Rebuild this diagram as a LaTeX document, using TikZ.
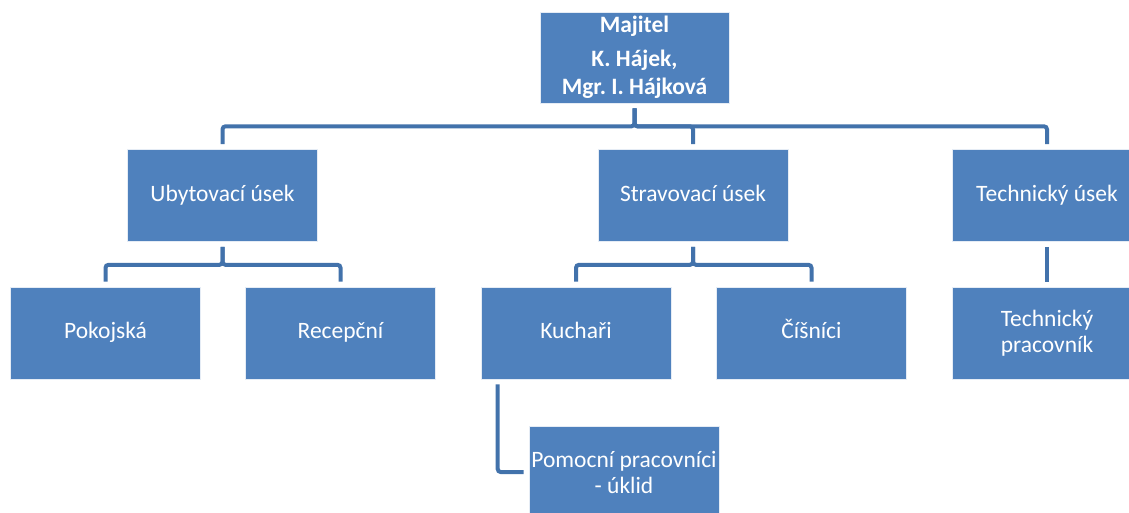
\documentclass[tikz,border=0pt]{standalone}
\usepackage{fontspec}
\setmainfont{Carlito}
\frenchspacing
\definecolor{boxblue}{HTML}{4F81BD}
\definecolor{lineblue}{HTML}{4272AB}
\begin{document}
\begin{tikzpicture}[x=1pt,y=-1pt,
  box/.style={fill=boxblue,draw=white!85!boxblue,line width=0.6pt,minimum width=190pt,minimum height=92pt,inner sep=0pt,
    text=white,font=\fontsize{23.5}{26}\selectfont,align=center},
  one/.style={text height=15pt,text depth=4pt},
  conn/.style={draw=lineblue,line width=4pt,rounded corners=3pt,shorten <=5pt,shorten >=5pt}]
\useasboundingbox (0,0) rectangle (1129,512);
\clip (0,0) rectangle (1129,512);
\node[box,minimum width=189pt,minimum height=91pt,font=\bfseries\fontsize{23.5}{28}\selectfont] (maj) at (634.5,57.5) {Majitel\\[6pt]K. Hájek,\\Mgr. I. Hájková};
\node[box,one] (ub) at (222.5,195.5) {Ubytovací úsek};
\node[box,one] (str) at (693,195.5) {Stravovací úsek};
\node[box,one] (tech) at (1047,195.5) {Technický úsek};
\node[box,one] (pok) at (105.5,333) {Pokojská};
\node[box,one] (rec) at (340.5,333) {Recepční};
\node[box,one] (kuch) at (576,333) {Kuchaři};
\node[box,one] (cis) at (811.5,333) {Číšníci};
\node[box] (tp) at (1047,333) {Technický\\pracovník};
\node[box] (pom) at (624,472) {Pomocní pracovníci\\- úklid};
\draw[conn] (maj.south) -- ++(0,23) -| (ub.north);
\draw[conn] (maj.south) -- ++(0,23) -| (str.north);
\draw[conn] (maj.south) -- ++(0,23) -| (tech.north);
\draw[conn] (ub.south) -- ++(0,23) -| (pok.north);
\draw[conn] (ub.south) -- ++(0,23) -| (rec.north);
\draw[conn] (str.south) -- ++(0,23) -| (kuch.north);
\draw[conn] (str.south) -- ++(0,23) -| (cis.north);
\draw[conn] (tech.south) -- (tp.north);
\draw[conn] ([xshift=17pt]kuch.south west) |- (pom.west);
\end{tikzpicture}
\end{document}
